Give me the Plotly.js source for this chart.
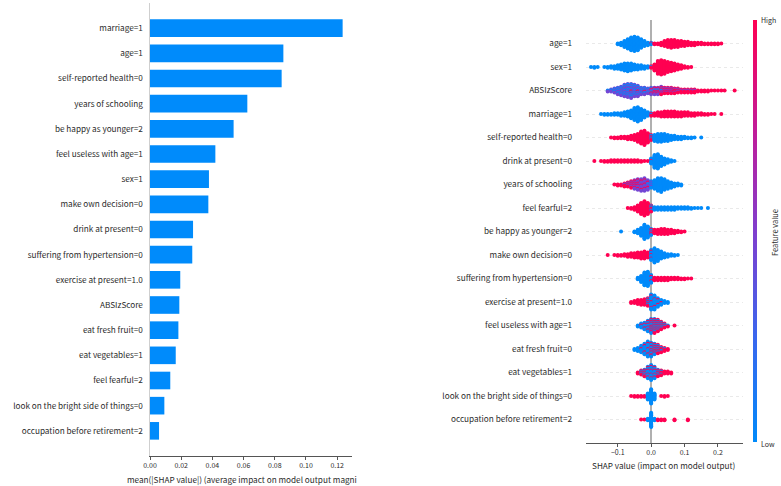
<!DOCTYPE html>
<html>
<head>
<meta charset="utf-8">
<script src="https://cdn.plot.ly/plotly-3.0.1.min.js"></script>
<style>
  html, body { margin: 0; padding: 0; background: #fff; }
  #chart { width: 781px; height: 486px; }
</style>
</head>
<body>
<div id="chart"></div>
<script>
// ---------- Left panel: mean |SHAP| per feature ----------
const barFeatures = [
  "marriage=1", "age=1", "self-reported health=0", "years of schooling",
  "be happy as younger=2", "feel useless with age=1", "sex=1", "make own decision=0",
  "drink at present=0", "suffering from hypertension=0", "exercise at present=1.0",
  "ABSIzScore", "eat fresh fruit=0", "eat vegetables=1", "feel fearful=2",
  "look on the bright side of things=0", "occupation before retirement=2"
];
const meanAbsShap = [
  0.1235, 0.0855, 0.0844, 0.0624, 0.0536, 0.0419, 0.0378, 0.0374,
  0.0276, 0.0271, 0.0194, 0.0188, 0.0182, 0.0165, 0.0130, 0.0092, 0.0058
];
const barTicks = [0, 0.02, 0.04, 0.06, 0.08, 0.10, 0.12];
const barTickText = ["0.00", "0.02", "0.04", "0.06", "0.08", "0.10", "0.12"];

// ---------- Right panel: SHAP value distribution per feature ----------
const swarmFeatures = [
  "age=1", "sex=1", "ABSIzScore", "marriage=1", "self-reported health=0",
  "drink at present=0", "years of schooling", "feel fearful=2", "be happy as younger=2",
  "make own decision=0", "suffering from hypertension=0", "exercise at present=1.0",
  "feel useless with age=1", "eat fresh fruit=0", "eat vegetables=1",
  "look on the bright side of things=0", "occupation before retirement=2"
];
const swarmTicks = [-0.1, 0, 0.1, 0.2];
const swarmTickText = ["\u22120.1", "0.0", "0.1", "0.2"];

// Samples per SHAP bin (bin width 0.01), starting at `from`.
// low = low feature value, mid = middle, high = high feature value.
const age_low   = { from: -0.10, counts: [2,4,8,12,16,18,16,11,7,4,2] };
const age_high  = { from:  0.00, counts: [1,2,2,4,7,9,10,9,8,7,6,5,4,4,3,3,2,2,2,2,2,1] };
const sex_low   = { from: -0.18, counts: [1,2,1,0,1,2,3,4,5,7,9,10,9,7,6,5,4,3,1] };
const sex_high  = { from:  0.00, counts: [2,8,16,18,16,13,11,9,7,5,3,2,1] };
const absi_low  = { from: -0.13, counts: [1,1,2,3,4,5,6,6,5,4,3,3,2,2,1,1,1] };
const absi_mid  = { from: -0.13, counts: [1,2,3,5,6,8,9,9,8,7,5,4,4,4,4,4,4,3,3,3,2,2,1,1,1,1,1] };
const absi_high = { from: -0.06, counts: [1,0,1,0,1,0,2,3,3,4,4,4,4,4,3,3,3,3,3,3,2,2,2,2,1,1,1,1,1,0,0,1] };
const mar_low   = { from: -0.15, counts: [1,2,2,2,3,3,4,5,7,10,15,18,14,9,5,2] };
const mar_high  = { from:  0.00, counts: [2,4,5,6,7,7,7,7,6,6,5,5,4,4,3,3,2,2,1,1,0,1] };
const srh_high  = { from: -0.12, counts: [1,2,2,3,3,4,5,7,10,15,18,12,4] };
const srh_low   = { from:  0.00, counts: [3,8,10,10,9,8,6,5,4,4,3,2,2,1,0,1] };
const drk_high  = { from: -0.17, counts: [1,0,1,2,2,3,3,3,3,3,3,3,3,3,2,1,1,1] };
const drk_low   = { from:  0.00, counts: [6,16,18,12,8,5,3,1] };
const yrs_high  = { from: -0.11, counts: [1,2,2,3,3,4,4,4,3,3,2] };
const yrs_mid   = { from: -0.08, counts: [1,2,3,5,7,9,10,7,3] };
const yrs_low   = { from: -0.01, counts: [1,4,9,13,14,11,8,6,4,3,2] };
const fear_high = { from: -0.07, counts: [1,2,4,8,14,18,14,5] };
const fear_low  = { from:  0.00, counts: [3,4,4,4,4,4,4,4,3,3,3,3,2,1,1,1,0,1] };
const hap_low   = { from: -0.09, counts: [1,0,0,0,2,5,10,18,14,5] };
const hap_high  = { from:  0.00, counts: [3,5,6,7,7,6,5,4,3,2,1] };
const dec_high  = { from: -0.13, counts: [1,0,1,2,2,3,4,5,6,7,8,9,7,3] };
const dec_low   = { from:  0.00, counts: [10,18,14,9,6,4,3,2,1] };
const hyp_low   = { from: -0.04, counts: [3,8,16,18,8] };
const hyp_high  = { from:  0.00, counts: [2,4,4,4,4,4,3,3,3,2,2,1,1] };
const exe_high  = { from: -0.06, counts: [2,3,5,6,7,5,3,2,2,1] };
const exe_low   = { from: -0.01, counts: [4,14,14,8,5,3,2] };
const use_low   = { from: -0.04, counts: [2,4,6,8,9,8,6,4,2,1] };
const use_high  = { from: -0.03, counts: [1,2,4,7,8,7,5,3,1,0,1] };
const fru_low   = { from: -0.05, counts: [2,4,6,9,12,9,6,4,2,1] };
const fru_high  = { from: -0.03, counts: [1,2,3,5,5,5,4,3,2] };
const veg_low   = { from: -0.03, counts: [2,4,9,13,9,4,2] };
const veg_high  = { from: -0.04, counts: [2,3,4,4,4,4,4,4,3,3,2] };
const brt_low   = { from: -0.01, counts: [8,18,8] };
const brt_high  = { from: -0.06, counts: [1,2,2,2,2,0,0,0,0,1,2,1] };
const occ_low   = { from: -0.01, counts: [3,18,3] };
const occ_high  = { from: -0.03, counts: [1,1,0,0,0,2,2,2,0,0,2,0,0,0,2] };

const LOW = 0.0, MID = 0.45, HIGH = 1.0;
const rows = [
  [[age_low, LOW], [age_high, HIGH]],
  [[sex_low, LOW], [sex_high, HIGH]],
  [[absi_low, LOW], [absi_mid, MID], [absi_high, HIGH]],
  [[mar_low, LOW], [mar_high, HIGH]],
  [[srh_low, LOW], [srh_high, HIGH]],
  [[drk_low, LOW], [drk_high, HIGH]],
  [[yrs_low, LOW], [yrs_mid, MID], [yrs_high, HIGH]],
  [[fear_low, LOW], [fear_high, HIGH]],
  [[hap_low, LOW], [hap_high, HIGH]],
  [[dec_low, LOW], [dec_high, HIGH]],
  [[hyp_low, LOW], [hyp_high, HIGH]],
  [[exe_low, LOW], [exe_high, HIGH]],
  [[use_low, LOW], [use_high, HIGH]],
  [[fru_low, LOW], [fru_high, HIGH]],
  [[veg_low, LOW], [veg_high, HIGH]],
  [[brt_low, LOW], [brt_high, HIGH]],
  [[occ_low, LOW], [occ_high, HIGH]]
];

const STEP = 0.01;
const ROW_HALF = 0.36; // max vertical spread of a swarm, in row units

// Beeswarm layout: samples sharing a bin are stacked symmetrically around the row,
// colours interleaved along the stack, and each row scaled to the same max spread.
function layoutRow(groups, rowIndex) {
  const bins = new Map();
  groups.forEach(([s, fv]) => {
    const k0 = Math.round(s.from / STEP);
    s.counts.forEach((n, i) => {
      if (!n) return;
      const k = k0 + i;
      if (!bins.has(k)) bins.set(k, []);
      for (let j = 0; j < n; j++) bins.get(k).push({ fv, key: (j + 0.5) / n });
    });
  });
  const placed = [];
  let maxOff = 0;
  [...bins.keys()].sort((a, b) => a - b).forEach(k => {
    const items = bins.get(k).sort((a, b) => a.key - b.key);
    const n = items.length;
    const offs = [];
    for (let layer = 0; layer < n; layer++) {
      offs.push(Math.ceil(layer / 2) * ((layer % 2) * 2 - 1));
    }
    offs.sort((a, b) => a - b);
    items.forEach((it, i) => {
      placed.push({ x: k * STEP, off: offs[i], fv: it.fv });
      if (offs[i] > maxOff) maxOff = offs[i];
    });
  });
  const scale = ROW_HALF / (maxOff + 1);
  return placed.map(p => ({ x: p.x, y: rowIndex + p.off * scale, fv: p.fv }));
}

const sx = [], sy = [], sc = [];
rows.forEach((groups, r) => {
  layoutRow(groups, r).forEach(p => { sx.push(p.x); sy.push(p.y); sc.push(p.fv); });
});

const FONT = "'Noto Sans CJK JP', 'Noto Sans', sans-serif";
const LABEL = 8.2, TICK = 7;
const INK = "#2b2b2b";
const BLUE = "#008bfb";
const redBlue = [
  [0.00, "rgb(0,138,250)"],
  [0.25, "rgb(58,102,238)"],
  [0.50, "rgb(128,62,206)"],
  [0.75, "rgb(196,26,150)"],
  [1.00, "rgb(255,0,82)"]
];

const W = 781, H = 486;
const px = v => v / W;
const py = v => 1 - v / H;

const traces = [
  {
    type: "bar",
    orientation: "h",
    x: meanAbsShap,
    y: barFeatures,
    width: 0.7,
    marker: { color: BLUE, line: { width: 0 } },
    xaxis: "x", yaxis: "y",
    hoverinfo: "x+y"
  },
  {
    type: "scatter",
    mode: "markers",
    x: sx, y: sy,
    xaxis: "x2", yaxis: "y2",
    marker: {
      size: 4,
      color: sc,
      cmin: 0, cmax: 1,
      colorscale: redBlue,
      line: { width: 0 },
      showscale: true,
      colorbar: {
        thickness: 4, thicknessmode: "pixels",
        len: 422, lenmode: "pixels",
        x: px(752.5), xanchor: "left",
        y: py(20), yanchor: "top",
        xpad: 0, ypad: 0,
        outlinewidth: 0,
        showticklabels: false,
        ticks: ""
      }
    },
    hoverinfo: "x"
  }
];

const layout = {
  width: W, height: H,
  margin: { l: 0, r: 0, t: 0, b: 0 },
  paper_bgcolor: "#ffffff",
  plot_bgcolor: "#ffffff",
  showlegend: false,
  font: { family: FONT, size: LABEL, color: INK },
  xaxis: {
    domain: [px(150), px(352)],
    range: [0, 0.1295],
    anchor: "y",
    showgrid: false, zeroline: false,
    showline: true, linecolor: "#555555", linewidth: 1,
    ticks: "outside", ticklen: 3, tickcolor: "#555555",
    tickvals: barTicks, ticktext: barTickText,
    tickfont: { size: TICK, color: INK }
  },
  yaxis: {
    domain: [1 - 456 / H, 1 - 3 / H],
    anchor: "x",
    type: "category",
    categoryorder: "array", categoryarray: barFeatures,
    range: [17, -1],
    showgrid: false, zeroline: false,
    showline: true, linecolor: "#cfcfcf", linewidth: 1.5,
    ticks: "", ticklabelstandoff: 4,
    tickfont: { size: LABEL, color: INK }
  },
  xaxis2: {
    domain: [px(586), px(743)],
    range: [-0.195, 0.275],
    anchor: "y2",
    showgrid: false,
    zeroline: true, zerolinecolor: "#b0b0b0", zerolinewidth: 1.5,
    showline: true, linecolor: "#555555", linewidth: 1,
    ticks: "outside", ticklen: 3, tickcolor: "#555555",
    tickvals: swarmTicks, ticktext: swarmTickText,
    tickfont: { size: TICK, color: INK }
  },
  yaxis2: {
    domain: [1 - 443 / H, 1 - 20 / H],
    anchor: "x2",
    range: [17, -1],
    tickvals: swarmFeatures.map((_, i) => i),
    ticktext: swarmFeatures,
    showgrid: true, gridcolor: "#d4d4d4", gridwidth: 0.5, griddash: "dot",
    zeroline: false, showline: false,
    ticks: "", ticklabelstandoff: 13,
    tickfont: { size: LABEL, color: INK }
  },
  annotations: [
    {
      text: "mean(|SHAP value|) (average impact on model output magni",
      xref: "paper", yref: "paper", x: px(125), y: py(479),
      xanchor: "left", yanchor: "middle", showarrow: false,
      font: { size: LABEL, color: INK }
    },
    {
      text: "SHAP value (impact on model output)",
      xref: "paper", yref: "paper", x: px(664), y: py(465),
      xanchor: "center", yanchor: "middle", showarrow: false,
      font: { size: LABEL, color: INK }
    },
    {
      text: "High", xref: "paper", yref: "paper", x: px(759), y: py(20),
      xanchor: "left", yanchor: "middle", showarrow: false,
      font: { size: 7, color: INK }
    },
    {
      text: "Low", xref: "paper", yref: "paper", x: px(759), y: py(444),
      xanchor: "left", yanchor: "middle", showarrow: false,
      font: { size: 7, color: INK }
    },
    {
      text: "Feature value", xref: "paper", yref: "paper", x: px(774), y: py(233),
      xanchor: "center", yanchor: "middle", textangle: -90, showarrow: false,
      font: { size: 7.5, color: INK }
    }
  ]
};

Plotly.newPlot("chart", traces, layout, { displayModeBar: false, staticPlot: true });
</script>
</body>
</html>
